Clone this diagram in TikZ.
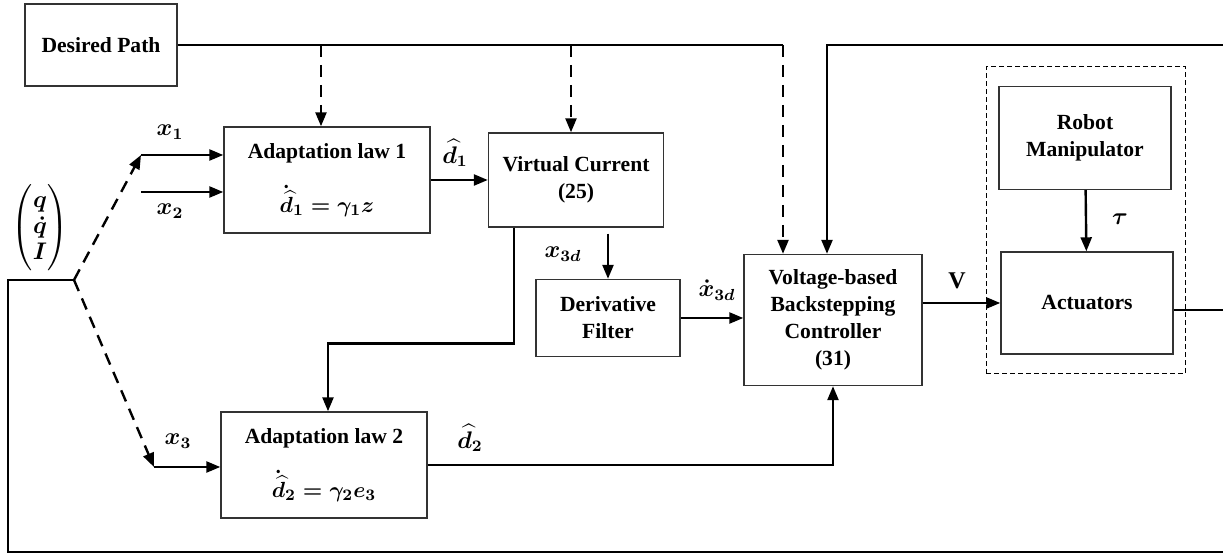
\documentclass[tikz,border=0pt]{standalone}
\usepackage{amsmath}
\usepackage{fontspec}
\setmainfont{Liberation Serif}
\usetikzlibrary{arrows.meta,positioning,calc,fit}

\begin{document}
\begin{tikzpicture}[x=0.5pt,y=-0.5pt,font=\fontsize{10.8}{13.5}\selectfont\bfseries\boldmath,
  blk/.style={draw=black!80,line width=0.7pt,align=center,inner sep=2pt},
  lbl/.style={font=\fontsize{12}{14}\selectfont\bfseries\boldmath,inner sep=1pt},
  wire/.style={line width=1.2pt},
  arr/.style={wire,-{Triangle[length=7pt,width=5.5pt]}},
  darr/.style={arr,dash pattern=on 6pt off 4pt},
  grp/.style={draw,line width=0.6pt,dash pattern=on 2.5pt off 1.5pt}]
\useasboundingbox (0,0) rectangle (1223,555);

\node[blk,minimum width=76pt,minimum height=41pt] (path) at (101,45) {Desired Path};
\node[blk,minimum width=103pt,minimum height=53pt] (ad1) at (327,180) {Adaptation law 1\\[10pt]$\dot{\widehat{d}}_1=\gamma_1 z$};
\node[blk,minimum width=87.5pt,minimum height=47pt] (vc) at (576,180) {Virtual Current\\(25)};
\node[blk,minimum width=72pt,minimum height=38.5pt] (df) at (608,318) {Derivative\\Filter};
\node[blk,minimum width=89pt,minimum height=65.5pt] (vbc) at (833,320) {Voltage-based\\Backstepping\\Controller\\(31)};
\node[blk,minimum width=103pt,minimum height=53pt] (ad2) at (324,465) {Adaptation law 2\\[10pt]$\dot{\widehat{d}}_2=\gamma_2 e_3$};
\node[blk,minimum width=86pt,minimum height=51.5pt] (robot) at (1085,138) {Robot\\Manipulator};
\node[blk,minimum width=86pt,minimum height=51pt] (act) at (1087,303) {Actuators};
\node[grp,fit=(robot)(act),inner xsep=6pt,inner ysep=9.5pt] (plant) {};

\node[lbl] (state) at (40,228) {$\left(\begin{array}{@{}c@{}}q\\[-1pt]\dot{q}\\[-1pt]I\end{array}\right)$};
\foreach \x/\y/\t [count=\i] in {170/132/x_1,170/211/x_2,178/441/x_3,455/153/\widehat{d}_1,
    470/438/\widehat{d}_2,563/254/x_{3d},717/290/\dot{x}_{3d},957/281/\textbf{V},1120/219/\tau}
  \node[lbl] (lab\i) at (\x,\y) {$\t$};

\coordinate (j) at (74,280);
\coordinate (s1) at (141,155);
\coordinate (s2) at (141,192);
\coordinate (s3) at (154,467);
\foreach \x/\n in {321/t1,571/t2,783/t3}
  \coordinate (\n) at (\x,45);
\coordinate (fbtop) at (1223,45);
\coordinate (fbout) at (1223,310);
\coordinate (fbbot) at (1223,552);

% reference path
\draw[wire] (path.east) -- (t3);
\foreach \t/\b in {t1/ad1,t2/vc,t3/vbc}
  \draw[darr] (\t) -- (\t |- \b.north);

% measured states
\draw[wire] (fbbot) -| (8,280) -- (j);
\draw[darr] (j) -- (s1);
\draw[darr] (j) -- (s3);
\foreach \s/\b in {s1/ad1,s2/ad1,s3/ad2}
  \draw[arr] (\s) -- (\s -| \b.west);

\draw[arr] (ad1) -- (vc);
\draw[arr] ([xshift=-31pt]vc.south) -- ++(0,116) -| ([xshift=2pt]ad2.north);
\draw[arr] ($(df.north |- vc.south)+(0,6)$) -- (df.north);
\draw[arr] (df.east) -- (df.east -| vbc.west);
\draw[arr] (ad2.east) -| (vbc.south);
\draw[arr] (fbtop) -| ([xshift=-3pt]vbc.north);
\draw[arr] (vbc.east |- act.west) -- (act.west);
\draw[arr] (robot) -- (act);
\draw[wire] (fbout -| act.east) -- (fbout);
\end{tikzpicture}
\end{document}
